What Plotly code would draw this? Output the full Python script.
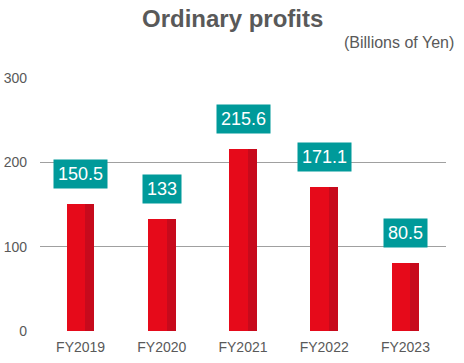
import plotly.graph_objects as go

categories = ["FY2019", "FY2020", "FY2021", "FY2022", "FY2023"]
values = [150.5, 133, 215.6, 171.1, 80.5]
value_labels = ["150.5", "133", "215.6", "171.1", "80.5"]
y_ticks = [0, 100, 200, 300]

xs = list(range(len(categories)))

fig = go.Figure()
fig.add_trace(go.Bar(x=xs, y=values, width=0.34, offset=-0.17,
                     marker=dict(color="#E60A1A", line=dict(width=0)),
                     hoverinfo="skip"))
fig.add_trace(go.Bar(x=xs, y=values, width=0.11, offset=0.06,
                     marker=dict(color="#C70A1C", line=dict(width=0)),
                     hoverinfo="skip"))

for x, v, t in zip(xs, values, value_labels):
    fig.add_annotation(x=x, y=v, text=t, showarrow=False, yanchor="bottom",
                       yshift=15, bgcolor="#009A9A", borderpad=4,
                       font=dict(family="Liberation Sans, Arial", size=18, color="white"))

fig.add_annotation(xref="paper", yref="paper", x=0.475, y=1.0, yanchor="middle",
                   yshift=60, text="<b>Ordinary profits</b>", showarrow=False,
                   font=dict(family="Liberation Sans, Arial", size=24, color="#595959"))
fig.add_annotation(xref="paper", yref="paper", x=1.0, xanchor="right", xshift=10,
                   y=1.0, yanchor="middle", yshift=36, text="(Billions of Yen)",
                   showarrow=False,
                   font=dict(family="Liberation Sans, Arial", size=16, color="#595959"))

fig.update_layout(
    width=464, height=363, margin=dict(l=40, r=18, t=78, b=32),
    paper_bgcolor="white", plot_bgcolor="white",
    barmode="overlay", showlegend=False, bargap=0,
    font=dict(family="Liberation Sans, Arial", size=14, color="#595959"),
    xaxis=dict(tickmode="array", tickvals=xs, ticktext=categories,
               range=[-0.5, 4.5], showgrid=False, zeroline=False, showline=False,
               ticks="", ticklabelstandoff=6, automargin=False),
    yaxis=dict(range=[0, 300], tickvals=y_ticks, showgrid=True,
               gridcolor="#A0A0A0", gridwidth=1, zeroline=False, showline=False,
               ticks="", ticklabelstandoff=12, automargin=False),
)

fig.write_html("out.html", config={"displayModeBar": False},
               post_script="document.body.style.margin='0';document.body.style.overflow='hidden';")
